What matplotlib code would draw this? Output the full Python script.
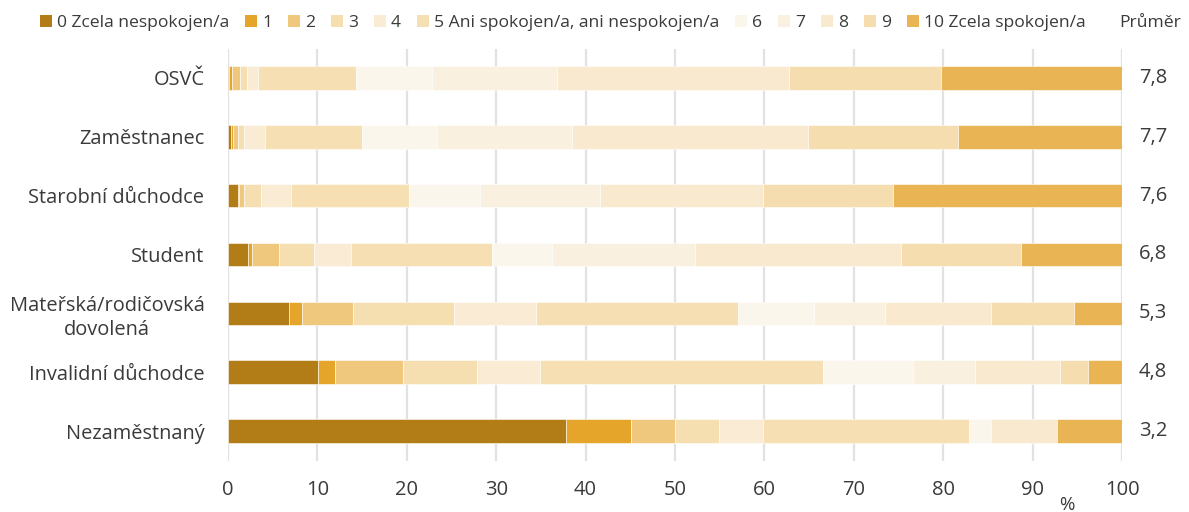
import matplotlib
matplotlib.use("Agg")
import matplotlib.pyplot as plt
from matplotlib.patches import Patch
from matplotlib.transforms import blended_transform_factory
import numpy as np

plt.rcParams['font.family'] = ['Open Sans', 'DejaVu Sans']

categories = ["OSVČ", "Zaměstnanec", "Starobní důchodce", "Student",
              "Mateřská/rodičovská\ndovolená", "Invalidní důchodce", "Nezaměstnaný"]

series_labels = ["0 Zcela nespokojen/a", "1", "2", "3", "4",
                 "5 Ani spokojen/a, ani nespokojen/a", "6", "7", "8", "9",
                 "10 Zcela spokojen/a"]

# rows = categories, columns = scores 0..10 (percent)
values = [
    [0.1, 0.37, 0.89, 0.79, 1.19, 10.96, 8.5, 14.0, 26.0, 17.0, 20.2],
    [0.35, 0.2, 0.6, 0.65, 2.35, 10.85, 8.4, 15.1, 26.4, 16.8, 18.3],
    [1.1, 0.1, 0.6, 1.9, 3.35, 13.25, 7.9, 13.4, 18.2, 14.6, 25.6],
    [2.26, 0.44, 3.02, 3.9, 4.17, 15.7, 6.7, 16.1, 23.0, 13.4, 11.31],
    [6.8, 1.5, 5.7, 11.3, 9.2, 22.6, 8.4, 8.0, 11.9, 9.2, 5.4],
    [10.1, 1.9, 7.6, 8.3, 7.0, 31.6, 10.1, 7.0, 9.5, 3.1, 3.8],
    [37.8, 7.25, 4.9, 4.95, 4.9, 23.1, 2.5, 0.0, 7.3, 0.0, 7.3],
]

means = [7.8, 7.7, 7.6, 6.8, 5.3, 4.8, 3.2]

xticks = [0, 10, 20, 30, 40, 50, 60, 70, 80, 90, 100]

colors = ["#B27D17", "#E5A52A", "#F0C87D", "#F5DEB0", "#FAECD4", "#F5DFB3",
          "#FBF6EC", "#F9F0DF", "#F8E9CF", "#F5DDB0", "#E9B554"]

text_color = "#3a3a3a"

fig = plt.figure(figsize=(11.89, 5.12), dpi=100)
ax = fig.add_axes([228 / 1189, 1 - 460.5 / 512, 894 / 1189, 412 / 512])

vals = np.array(values)
y = np.arange(len(categories))
left = np.zeros(len(categories))
for j in range(vals.shape[1]):
    ax.barh(y, vals[:, j], left=left, height=0.4, color=colors[j],
            edgecolor="white", linewidth=0.4, zorder=3)
    left += vals[:, j]

ax.set_xlim(0, 100)
ax.set_ylim(len(categories) - 0.5, -0.5)
ax.set_xticks(xticks)
ax.set_xticklabels([str(t) for t in xticks], fontsize=14.5, color=text_color)
ax.set_yticks(y)
ax.set_yticklabels(categories, fontsize=14.4, color=text_color,
                   multialignment="center", linespacing=1.3)
ax.tick_params(axis="both", length=0)
ax.tick_params(axis="y", pad=17)
ax.tick_params(axis="x", pad=14)
ax.grid(axis="x", color="#E2E2E2", linewidth=1.6, zorder=0)
ax.set_axisbelow(True)
for s in ax.spines.values():
    s.set_visible(False)

trans = blended_transform_factory(ax.transAxes, ax.transData)
for yi, m in zip(y, means):
    ax.text(1.019, yi, f"{m:.1f}".replace(".", ","), transform=trans,
            ha="left", va="center", fontsize=14.5, color=text_color)

fig.text(1067 / 1189, 1 - 505 / 512, "%", ha="center", va="center",
         fontsize=13.5, color=text_color)

handles = [Patch(facecolor=c, edgecolor="none") for c in colors]
fig.legend(handles, series_labels, loc="center left",
           bbox_to_anchor=(40 / 1189, 1 - 23 / 512), ncol=11, frameon=False,
           fontsize=12.6, handlelength=0.68, handleheight=0.68, handletextpad=0.3,
           columnspacing=0.9, borderpad=0, borderaxespad=0,
           labelcolor=text_color)
fig.text(1150 / 1189, 1 - 23 / 512, "Průměr", ha="center", va="center",
         fontsize=12.6, color=text_color)

fig.savefig("out.png", dpi=100)
